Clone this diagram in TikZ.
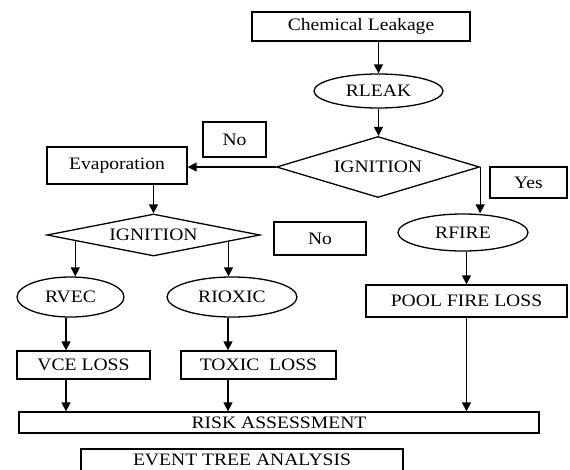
\documentclass[tikz,border=0pt]{standalone}
\usepackage{fontspec}
\setmainfont{Liberation Serif}[FakeStretch=1.12]
\usetikzlibrary{shapes.geometric}
\usetikzlibrary{arrows.meta}
\usetikzlibrary{calc}

\begin{document}
\begin{tikzpicture}[x=1pt,y=-1pt,line width=1.3pt,font=\fontsize{17.5}{20}\selectfont,
  box/.style={draw,rectangle,inner sep=0pt},
  oval/.style={draw,ellipse,inner sep=0pt},
  choice/.style={draw,diamond,inner sep=0pt},
  arr/.style={-{Triangle[length=9pt,width=9pt]}}]
\useasboundingbox (0,0) rectangle (570,469);

\node [box,minimum width=218pt,minimum height=29pt] (leak) at (361,26.5) {Chemical Leakage};
\node [oval,minimum width=129pt,minimum height=34pt] (rleak) at (378.5,91) {RLEAK};
\node [choice,aspect=3.3,minimum width=203pt,minimum height=61pt] (ign1) at (378,167) {IGNITION};
\node [box,minimum width=63pt,minimum height=35pt] (no1) at (234.5,139.5) {No};
\node [box,minimum width=140pt,minimum height=37pt] (evap) at (117,165.5) {Evaporation};
\node [box,minimum width=77pt,minimum height=31pt] (yes) at (528.5,182.5) {Yes};
\node [choice,aspect=5,minimum width=213pt,minimum height=42pt] (ign2) at (153.5,235) {IGNITION};
\node [box,minimum width=92pt,minimum height=33pt] (no2) at (320,238.5) {No};
\node [oval,minimum width=130pt,minimum height=37pt] (rfire) at (463,232.5) {RFIRE};
\node [oval,minimum width=107pt,minimum height=40pt] (rvec) at (70.5,297) {RVEC};
\node [oval,minimum width=130pt,minimum height=40pt] (rtoxic) at (232,297) {RIOXIC};
\node [box,minimum width=201pt,minimum height=32pt] (pool) at (466.5,301) {POOL FIRE LOSS};
\node [box,minimum width=133pt,minimum height=28pt] (vce) at (83.5,365) {VCE LOSS};
\node [box,minimum width=155pt,minimum height=28pt] (toxic) at (258.5,365) {TOXIC\ \ LOSS};
\node [box,minimum width=520pt,minimum height=21pt] (risk) at (279,422.5) {RISK ASSESSMENT};
\node [box,minimum width=322pt,minimum height=22pt] (eta) at (242,460) {EVENT TREE ANALYSIS};

% top branch
\draw [arr] (rleak.north |- leak.south) -- (rleak.north);
\draw [arr] (rleak.south) -- (rleak.south |- ign1.north);
\draw [arr] (ign1.west) -- (ign1.west -| evap.east);
\draw [arr] (ign1.east) -- (ign1.east |- rfire.north);
\draw [arr] (evap.south -| ign2.north) -- (ign2.north);

% second ignition
\coordinate (lft) at ($(ign2.west)!0.27!(ign2.south)$);
\coordinate (rgt) at ($(ign2.south)!0.70!(ign2.east)$);
\draw [arr] (lft) -- (lft |- rvec.north);
\draw [arr] (rgt) -- (rgt |- rtoxic.north);
\draw [arr] ([xshift=-4.5pt]rvec.south) -- ([xshift=-4.5pt]rvec.south |- vce.north);
\draw [arr] ([xshift=-4pt]rtoxic.south) -- ([xshift=-4pt]rtoxic.south |- toxic.north);
\draw [arr] (pool.north |- rfire.south) -- (pool.north);

% into risk
\draw [arr] ([xshift=-17.5pt]vce.south) -- ([xshift=-17.5pt]vce.south |- risk.north);
\draw [arr] ([xshift=-30.5pt]toxic.south) -- ([xshift=-30.5pt]toxic.south |- risk.north);
\draw [arr] (pool.south) -- (pool.south |- risk.north);

\end{tikzpicture}
\end{document}
